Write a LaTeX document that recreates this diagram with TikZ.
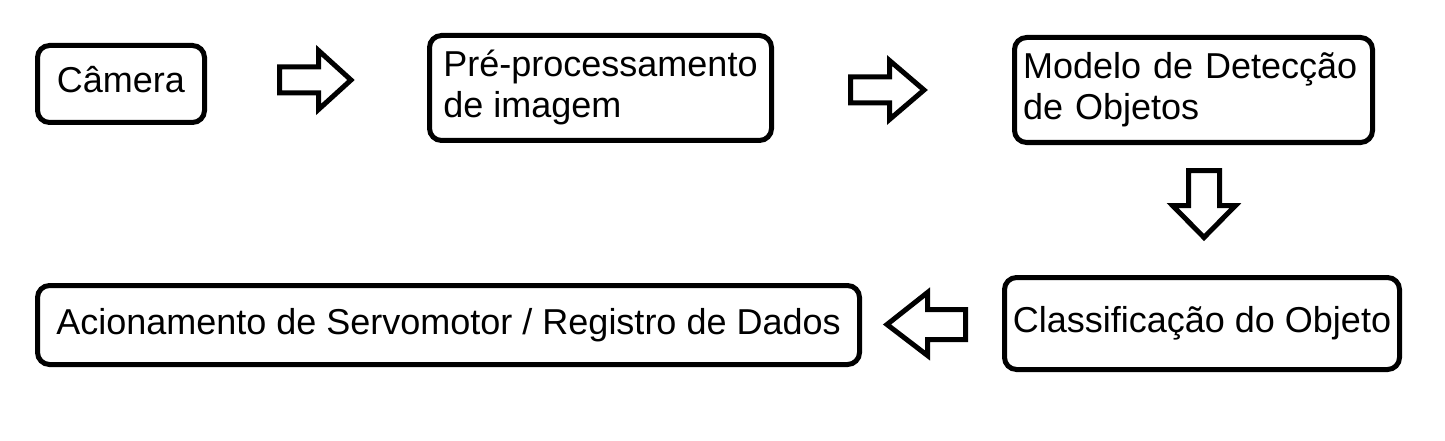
\documentclass[tikz,border=0pt]{standalone}
\usepackage{fontspec}
\setmainfont{Liberation Sans}

\tikzset{
  stage/.style={draw, rectangle, rounded corners=12pt, line width=5pt,
    align=left, text height=27pt, text depth=9pt},
  twoline/.style={text height=68pt, text depth=9pt},
  twolinewide/.style={text height=27pt, text depth=50pt},
  blockarrow/.style={draw, line width=5pt, fill=white}
}

\begin{document}
\begin{tikzpicture}[x=1pt, y=-1pt, font=\fontsize{36}{41}\selectfont]
    \useasboundingbox (0,0) rectangle (1445,441);

    % Nodes
    \node (camera) [stage, minimum width=167pt, minimum height=77pt] at (121,84) {Câmera};
    \node (preproc) [stage, twoline, minimum width=342pt, minimum height=105pt] at (600.5,88) {Pré-processamento\\de imagem};
    \node (detect) [stage, twolinewide, text width=341pt, inner xsep=8.5pt, minimum height=105pt] at (1193.5,90) {Modelo de Detecção\\de Objetos};
    \node (classif) [stage, minimum width=395pt, minimum height=92pt] at (1202,323.5) {Classificação do Objeto};
    \node (servo) [stage, minimum width=822pt, minimum height=79pt] at (448.5,325) {Acionamento de Servomotor / Registro de Dados};

    % Arrows
    \draw[blockarrow] (279.5,67) -- (318.5,67) -- (318.5,50.5) -- (351,80) -- (318.5,109.5) -- (318.5,93) -- (279.5,93) -- cycle;
    \draw[blockarrow] (850.5,77) -- (889.5,77) -- (889.5,60.5) -- (924,90) -- (889.5,119.5) -- (889.5,103) -- (850.5,103) -- cycle;
    \draw[blockarrow] (1188.5,170.5) -- (1219.5,170.5) -- (1219.5,205.5) -- (1235.5,205.5) -- (1204,237.5) -- (1172.5,205.5) -- (1188.5,205.5) -- cycle;
    \draw[blockarrow] (965.5,309.5) -- (927.5,309.5) -- (927.5,292.5) -- (887,324.5) -- (927.5,355.5) -- (927.5,339.5) -- (965.5,339.5) -- cycle;
\end{tikzpicture}
\end{document}
